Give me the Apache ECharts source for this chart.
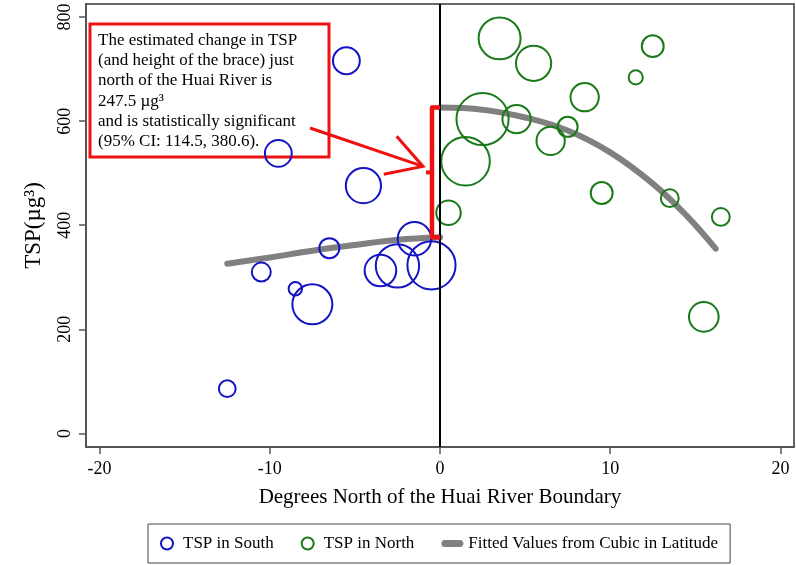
<!DOCTYPE html>
<html>
<head>
<meta charset="utf-8">
<script src="https://cdn.jsdelivr.net/npm/echarts@6/dist/echarts.min.js"></script>
<style>
html, body { margin: 0; padding: 0; background: #fff; }
#main { width: 796px; height: 565px; }
</style>
</head>
<body>
<div id="main"></div>
<script>
// degrees north of the boundary, TSP, and a weight that sets the bubble area
const southX = [-12.5, -10.5, -9.5, -8.5, -7.5, -6.5, -5.5, -4.5, -3.5, -2.5, -1.5, -0.5];
const southY = [86, 310, 538, 278, 248, 356, 716, 476, 313, 322, 374, 323];
const southW = [7, 9, 18, 4.5, 40, 10, 18, 31, 25, 47, 28, 58];

const northX = [0.5, 1.5, 2.5, 3.5, 4.5, 5.5, 6.5, 7.5, 8.5, 9.5, 11.5, 12.5, 13.5, 15.5, 16.5];
const northY = [424, 523, 604, 759, 604, 711, 562, 589, 646, 462, 684, 744, 452, 224, 416];
const northW = [15, 59, 68, 44, 20, 31, 20, 10, 20, 12, 5, 12, 8, 22, 8];

// cubic fit, each side of the boundary
const fitSouthX = [-12.5, -10, -7.5, -5, -2.5, 0];
const fitSouthY = [326, 338, 351, 362, 372, 377];
const fitNorthX = [0, 2.5, 5, 7.5, 10, 12.5, 14.5, 16.2];
const fitNorthY = [626, 622, 607, 582, 540, 480, 418, 355];

const xTicks = [-20, -10, 0, 10, 20];
const yTicks = [0, 200, 400, 600, 800];

const noteLines = [
    'The estimated change in TSP',
    '(and height of the brace) just',
    'north of the Huai River is',
    '247.5 µg³',
    'and is statistically significant',
    '(95% CI: 114.5, 380.6).'
];

const serif = "'Liberation Serif', 'DejaVu Serif', serif";
const blue = '#1414c4';
const green = '#1a7a1a';
const red = '#ee1111';

const zip3 = (a, b, c) => a.map((v, i) => [v, b[i], c[i]]);
const fitData = fitSouthX.map((v, i) => [v, fitSouthY[i]])
    .concat([[0, '-']])
    .concat(fitNorthX.map((v, i) => [v, fitNorthY[i]]));

const myChart = echarts.init(document.getElementById('main'));

myChart.setOption({
    animation: false,
    backgroundColor: '#fff',
    grid: {
        left: 86, right: 2, top: 4, bottom: 118,
        show: true, borderColor: '#666', borderWidth: 2
    },
    legend: {
        left: 148,
        bottom: 2,
        padding: [11, 12],
        itemGap: 27,
        itemWidth: 22,
        itemHeight: 12,
        borderColor: '#444',
        borderWidth: 1,
        textStyle: { fontFamily: serif, fontSize: 17, color: '#000' },
        data: [
            'TSP in South',
            'TSP in North',
            {
                name: 'Fitted Values from Cubic in Latitude',
                icon: 'path://M3.5,0 L18.5,0 A3.5,3.5 0 0 1 18.5,7 L3.5,7 A3.5,3.5 0 0 1 3.5,0 Z'
            }
        ]
    },
    xAxis: {
        type: 'value',
        min: -20.8,
        max: 20.8,
        name: 'Degrees North of the Huai River Boundary',
        nameLocation: 'middle',
        nameGap: 40,
        nameTextStyle: { fontFamily: serif, fontSize: 21, color: '#000' },
        axisLine: { show: true, onZero: false, lineStyle: { color: '#555', width: 2 } },
        axisTick: { show: true, length: 7, customValues: xTicks, lineStyle: { color: '#555', width: 1.5 } },
        axisLabel: { customValues: xTicks, fontFamily: serif, fontSize: 18, color: '#000', margin: 13 },
        splitLine: { show: false }
    },
    yAxis: {
        type: 'value',
        min: -26,
        max: 825,
        name: 'TSP(µg³)',
        nameLocation: 'middle',
        nameGap: 41,
        nameTextStyle: { fontFamily: serif, fontSize: 23, color: '#000' },
        axisLine: { show: true, onZero: false, lineStyle: { color: '#555', width: 2 } },
        axisTick: { show: true, length: 7, customValues: yTicks, lineStyle: { color: '#555', width: 1.5 } },
        axisLabel: { customValues: yTicks, rotate: 90, fontFamily: serif, fontSize: 18, color: '#000', margin: 12 },
        splitLine: { show: false }
    },
    series: [
        {
            name: 'Fitted Values from Cubic in Latitude',
            type: 'line',
            data: fitData,
            smooth: 0.4,
            symbol: 'none',
            connectNulls: false,
            z: 1,
            lineStyle: { color: '#808080', width: 6, cap: 'round' },
            itemStyle: { color: '#808080' }
        },
        {
            name: 'TSP in South',
            type: 'scatter',
            data: zip3(southX, southY, southW),
            symbolSize: function (val) { return 2 * Math.sqrt(10 * val[2]); },
            itemStyle: { color: 'rgba(0,0,0,0)', borderColor: blue, borderWidth: 2, opacity: 1 },
            z: 3,
            markLine: {
                silent: true,
                symbol: ['none', 'none'],
                label: { show: false },
                lineStyle: { color: '#000', width: 2, type: 'solid' },
                data: [{ xAxis: 0 }]
            }
        },
        {
            name: 'TSP in North',
            type: 'scatter',
            data: zip3(northX, northY, northW),
            symbolSize: function (val) { return 2 * Math.sqrt(10 * val[2]); },
            itemStyle: { color: 'rgba(0,0,0,0)', borderColor: green, borderWidth: 2, opacity: 1 },
            z: 3
        }
    ]
});

// brace between the two fitted values at the boundary, plus the note and its arrow
const braceTop = myChart.convertToPixel({ gridIndex: 0 }, [0, fitNorthY[0]]);
const braceBot = myChart.convertToPixel({ gridIndex: 0 }, [0, fitSouthY[fitSouthY.length - 1]]);
const bx = braceTop[0] - 8;
const midY = (braceTop[1] + braceBot[1]) / 2;
const tip = [bx - 9, midY - 6];
const ang = Math.atan2(tip[1] - 128, tip[0] - 310);
const arm = 40;
const a1 = [tip[0] - arm * Math.cos(ang - Math.PI / 6), tip[1] - arm * Math.sin(ang - Math.PI / 6)];
const a2 = [tip[0] - arm * Math.cos(ang + Math.PI / 6), tip[1] - arm * Math.sin(ang + Math.PI / 6)];

myChart.setOption({
    graphic: [
        {
            type: 'polyline',
            z: 10,
            shape: { points: [[braceTop[0], braceTop[1]], [bx, braceTop[1]], [bx, braceBot[1]], [braceBot[0], braceBot[1]]] },
            style: { stroke: red, lineWidth: 4.5, fill: null, lineJoin: 'round' }
        },
        {
            type: 'line',
            z: 10,
            shape: { x1: bx, y1: midY, x2: bx - 6, y2: midY },
            style: { stroke: red, lineWidth: 4 }
        },
        {
            type: 'polyline',
            z: 10,
            shape: { points: [[310, 128], tip] },
            style: { stroke: red, lineWidth: 3, fill: null }
        },
        {
            type: 'polyline',
            z: 10,
            shape: { points: [a1, tip, a2] },
            style: { stroke: red, lineWidth: 3, fill: null }
        },
        {
            type: 'rect',
            z: 0,
            shape: { x: 90, y: 24, width: 239, height: 133 },
            style: { stroke: red, lineWidth: 3, fill: null }
        },
        {
            type: 'text',
            z: 0,
            left: 98,
            top: 30,
            style: {
                text: noteLines.join('\n'),
                font: '17px ' + serif,
                lineHeight: 20.3,
                fill: '#000'
            }
        }
    ]
});

window.addEventListener('resize', () => {
    if (myChart) myChart.resize();
});
</script>
</body>
</html>
